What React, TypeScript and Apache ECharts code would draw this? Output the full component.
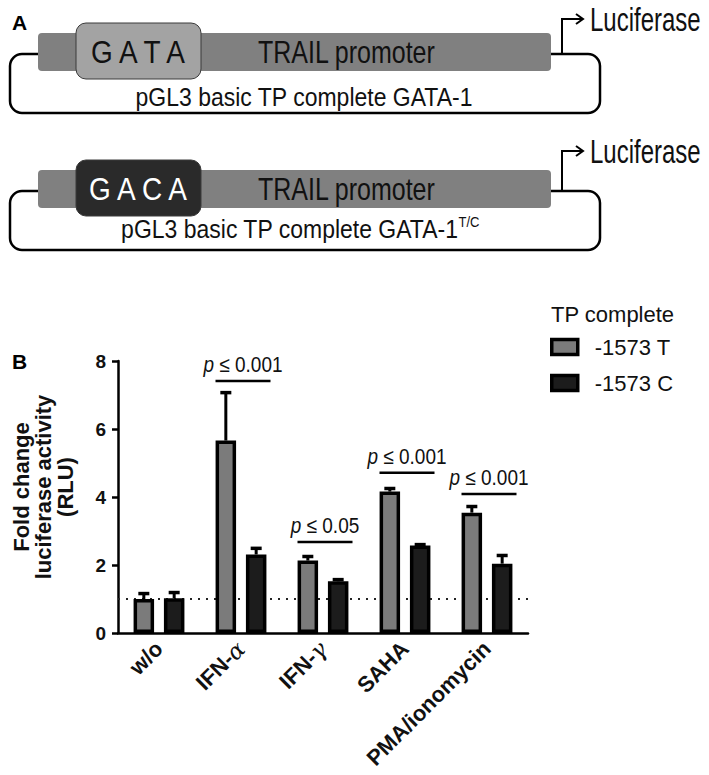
import React, { useEffect, useRef } from "react";
import * as echarts from "echarts";

const FONT = '"Liberation Sans", Arial, Helvetica, sans-serif';

const categories = ["w/o", "IFN-α", "IFN-γ", "SAHA", "PMA/ionomycin"];
const seriesNames = ["-1573 T", "-1573 C"];
const meanT = [1.0, 5.66, 2.13, 4.16, 3.54];
const meanC = [1.02, 2.31, 1.52, 2.57, 2.04];
const errTopT = [1.16, 7.07, 2.25, 4.25, 3.72];
const errTopC = [1.19, 2.49, 1.57, 2.6, 2.28];
const sigCats = [1, 2, 3, 4];
const sigY = [7.41, 2.68, 4.71, 4.09];
const sigP = ["0.001", "0.05", "0.001", "0.001"];
const yMin = 0;
const yMax = 8;
const yInterval = 2;
const baseline = 1;

const BAR_W = 20.5;
const BAR_GAP = 0.48;
const HALF_OFF = (BAR_W * (1 + BAR_GAP)) / 2;

function construct(dy: number, lucDy: number, boxFill: string, boxText: string, boxTextColor: string, withSup: boolean) {
  const els: any[] = [
    {
      type: "rect",
      shape: { x: 10, y: 54 + dy, width: 590, height: 59, r: 12 },
      style: { fill: "none", stroke: "#000", lineWidth: 2.5 },
    },
    {
      type: "polyline",
      shape: { points: [[562, 54 + dy], [562, 19 + lucDy], [583, 19 + lucDy]] },
      style: { fill: "none", stroke: "#000", lineWidth: 2 },
    },
    {
      type: "polyline",
      shape: { points: [[576, 14 + lucDy], [583, 19 + lucDy], [576, 24 + lucDy]] },
      style: { fill: "none", stroke: "#000", lineWidth: 2 },
    },
    {
      type: "rect",
      shape: { x: 38, y: 33 + dy, width: 513, height: 38, r: 4 },
      style: { fill: "#808080" },
    },
    {
      type: "rect",
      shape: { x: 76, y: 23 + dy, width: 125, height: 56, r: 10 },
      style: { fill: boxFill, stroke: "#3a3a3a", lineWidth: 1 },
    },
    {
      type: "text",
      x: 138,
      y: 52 + dy,
      scaleY: 1.12,
      style: {
        text: boxText,
        fill: boxTextColor,
        font: `28px ${FONT}`,
        textAlign: "center",
        textVerticalAlign: "middle",
      },
    },
    {
      type: "text",
      x: 258,
      y: 52 + dy,
      scaleY: 1.28,
      style: {
        text: "TRAIL promoter",
        fill: "#111",
        font: `25px ${FONT}`,
        textAlign: "left",
        textVerticalAlign: "middle",
      },
    },
    {
      type: "text",
      x: 590,
      y: 20 + lucDy,
      scaleY: 1.35,
      style: {
        text: "Luciferase",
        fill: "#111",
        font: `24px ${FONT}`,
        textAlign: "left",
        textVerticalAlign: "middle",
      },
    },
  ];
  if (withSup) {
    els.push({
      type: "text",
      x: 300,
      y: 97 + dy - 5,
      scaleY: 1.12,
      style: {
        text: "pGL3 basic TP complete GATA-1{s|T/C}",
        fill: "#111",
        font: `23px ${FONT}`,
        textAlign: "center",
        textVerticalAlign: "middle",
        rich: {
          s: { fontSize: 13, fontFamily: FONT, fill: "#111", verticalAlign: "top", padding: [0, 0, 12, 0] },
        },
      },
    });
  } else {
    els.push({
      type: "text",
      x: 304,
      y: 97 + dy,
      scaleY: 1.12,
      style: {
        text: "pGL3 basic TP complete GATA-1",
        fill: "#111",
        font: `23px ${FONT}`,
        textAlign: "center",
        textVerticalAlign: "middle",
      },
    });
  }
  return els;
}

export default function App() {
  const ref = useRef<HTMLDivElement>(null);
  useEffect(() => {
    if (!ref.current) return;
    const chart = echarts.init(ref.current, undefined, { renderer: "svg" });

    const errData = (means: number[], tops: number[]) => means.map((m, i) => [i, m, tops[i]]);

    const errSeries = (name: string, means: number[], tops: number[], sign: number) => ({
      type: "custom",
      name: name + " err",
      z: 3,
      silent: true,
      data: errData(means, tops),
      encode: { x: 0, y: [1, 2] },
      renderItem: (params: any, api: any) => {
        const c = api.value(0);
        const m = api.value(1);
        const t = api.value(2);
        const p0 = api.coord([c, m]);
        const p1 = api.coord([c, t]);
        const x = p0[0] + sign * HALF_OFF;
        return {
          type: "group",
          children: [
            {
              type: "line",
              shape: { x1: x, y1: p0[1], x2: x, y2: p1[1] },
              style: { stroke: "#000", lineWidth: 3 },
            },
            {
              type: "line",
              shape: { x1: x - 5.5, y1: p1[1], x2: x + 5.5, y2: p1[1] },
              style: { stroke: "#000", lineWidth: 3.5 },
            },
          ],
        };
      },
    });

    const option: any = {
      animation: false,
      backgroundColor: "#fff",
      title: {
        text: "TP complete",
        left: 551,
        top: 303,
        padding: 0,
        textStyle: { fontSize: 22, fontWeight: "normal", fontFamily: FONT, color: "#111" },
      },
      legend: {
        data: seriesNames,
        orient: "vertical",
        left: 550,
        top: 336,
        padding: 0,
        itemWidth: 26,
        itemHeight: 15,
        itemGap: 14,
        icon: "rect",
        itemStyle: { borderColor: "#000", borderWidth: 3.5 },
        textStyle: { fontSize: 22, fontFamily: FONT, color: "#111", lineHeight: 15, padding: [0, 0, 0, 12] },
        selectedMode: false,
      },
      grid: { left: 118, top: 361, width: 410, height: 272, containLabel: false },
      xAxis: {
        type: "category",
        data: categories,
        axisLine: { lineStyle: { color: "#000", width: 2.5 } },
        axisTick: { alignWithLabel: true, length: 8, lineStyle: { color: "#000", width: 2.5 } },
        axisLabel: {
          rotate: 45,
          margin: 12,
          fontSize: 22,
          fontWeight: "bold",
          fontFamily: FONT,
          color: "#111",
          formatter: (v: string) => v.replace(/([αγ])/, "{g|$1}"),
          rich: {
            g: { fontSize: 23, fontWeight: "normal", fontFamily: '"DejaVu Serif", serif', color: "#111", fontStyle: "italic" },
          },
        },
      },
      yAxis: {
        type: "value",
        min: yMin,
        max: yMax,
        interval: yInterval,
        name: "Fold change\nluciferase activity\n(RLU)",
        nameLocation: "middle",
        nameGap: 42,
        nameRotate: 90,
        nameTextStyle: { fontSize: 22, fontWeight: "bold", fontFamily: FONT, color: "#111", lineHeight: 22, padding: [0, 0, 0, 20] },
        axisLine: { show: true, lineStyle: { color: "#000", width: 2.5 } },
        axisTick: { show: true, length: 6, lineStyle: { color: "#000", width: 2.5 } },
        splitLine: { show: false },
        axisLabel: { margin: 12, fontSize: 19, fontWeight: "bold", fontFamily: FONT, color: "#111" },
      },
      series: [
        {
          type: "bar",
          name: seriesNames[0],
          data: meanT,
          barWidth: BAR_W,
          barGap: `${BAR_GAP * 100}%`,
          z: 2,
          itemStyle: { color: "#7b7b7b", borderColor: "#000", borderWidth: 3.5 },
          markLine: {
            z: 1,
            silent: true,
            symbol: "none",
            label: { show: false },
            lineStyle: { color: "#222", width: 2, type: [2, 6] },
            data: [{ yAxis: baseline }],
          },
        },
        {
          type: "bar",
          name: seriesNames[1],
          data: meanC,
          barWidth: BAR_W,
          barGap: `${BAR_GAP * 100}%`,
          z: 2,
          itemStyle: { color: "#1c1c1c", borderColor: "#000", borderWidth: 3.5 },
        },
        errSeries(seriesNames[0], meanT, errTopT, -1),
        errSeries(seriesNames[1], meanC, errTopC, 1),
        {
          type: "custom",
          name: "significance",
          z: 4,
          silent: true,
          data: sigCats.map((c, i) => [c, sigY[i]]),
          renderItem: (params: any, api: any) => {
            const c = api.value(0);
            const yv = api.value(1);
            const p = api.coord([c, yv]);
            const cx = p[0] + 2;
            return {
              type: "group",
              children: [
                {
                  type: "line",
                  shape: { x1: cx - 27.5, y1: p[1], x2: cx + 27.5, y2: p[1] },
                  style: { stroke: "#000", lineWidth: 2.5 },
                },
                {
                  type: "text",
                  x: cx,
                  y: p[1] - 6,
                  scaleY: 1.15,
                  style: {
                    text: "{i|p} ≤ " + sigP[params.dataIndex],
                    fill: "#111",
                    font: `19px ${FONT}`,
                    textAlign: "center",
                    textVerticalAlign: "bottom",
                    rich: { i: { fontStyle: "italic", fontSize: 19, fontFamily: FONT, fill: "#111" } },
                  },
                },
              ],
            };
          },
        },
      ],
      graphic: [
        {
          type: "text",
          left: 12,
          top: 12,
          style: { text: "A", font: `bold 21px ${FONT}`, fill: "#000" },
        },
        {
          type: "text",
          left: 12,
          top: 351,
          style: { text: "B", font: `bold 21px ${FONT}`, fill: "#000" },
        },
        ...construct(0, 0, "#a3a3a3", "G A T A", "#111", false),
        ...construct(137, 132, "#2a2a2a", "G A C A", "#fff", true),
      ],
    };
    chart.setOption(option);
    return () => chart.dispose();
  }, []);
  return (
    <div
      ref={ref}
      style={{ position: "absolute", left: 0, top: 0, width: 709, height: 775, background: "#fff" }}
    />
  );
}
